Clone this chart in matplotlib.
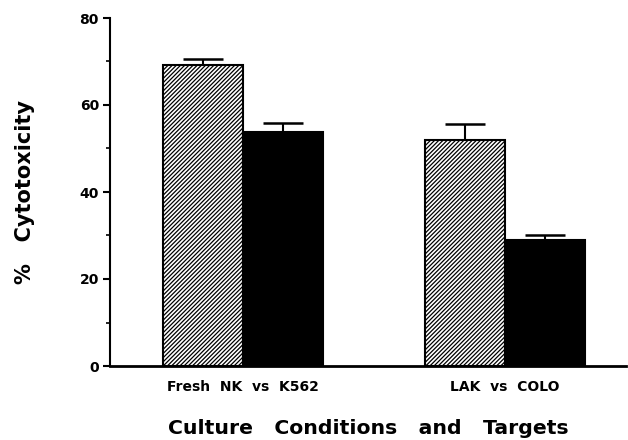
import numpy as np
import matplotlib
matplotlib.use("Agg")
import matplotlib.pyplot as plt
from matplotlib.ticker import MultipleLocator

# ---------------------------------------------------------------------
# Data
# ---------------------------------------------------------------------
groups = ["Fresh  NK  vs  K562", "LAK  vs  COLO"]

hatched_vals = [69.2, 52.0]
hatched_err = [1.4, 3.6]

solid_vals = [53.7, 29.0]
solid_err = [2.1, 1.1]

# ---------------------------------------------------------------------
# Plot
# ---------------------------------------------------------------------
plt.rcParams["font.family"] = "DejaVu Sans"
plt.rcParams["font.weight"] = "bold"
plt.rcParams["hatch.linewidth"] = 0.9

fig = plt.figure(figsize=(6.28, 4.4), dpi=100)
ax = fig.add_axes([110 / 628, 74 / 440, 516 / 628, 348 / 440])

x = np.arange(len(groups))
w = 0.305

ax.bar(x - w / 2, hatched_vals, w, color="white", edgecolor="black",
       hatch="////////", linewidth=1.5, zorder=2)
ax.bar(x + w / 2, solid_vals, w, color="black", edgecolor="black",
       linewidth=1.5, zorder=2)

ax.errorbar(x - w / 2, hatched_vals,
            yerr=[np.zeros(len(groups)), hatched_err],
            fmt="none", ecolor="black", elinewidth=1.5,
            capsize=14.5, capthick=1.8, zorder=1)
ax.errorbar(x + w / 2, solid_vals,
            yerr=[np.zeros(len(groups)), solid_err],
            fmt="none", ecolor="black", elinewidth=1.5,
            capsize=14.5, capthick=1.8, zorder=1)

ax.set_xlim(-0.508, 1.462)
ax.set_ylim(0, 80)
ax.set_xticks(x)
ax.set_xticklabels(groups, fontsize=10, fontweight="bold")
ax.yaxis.set_major_locator(MultipleLocator(20))
ax.yaxis.set_minor_locator(MultipleLocator(10))

ax.spines["top"].set_visible(False)
ax.spines["right"].set_visible(False)
ax.spines["left"].set_linewidth(1.5)
ax.spines["bottom"].set_linewidth(2)

ax.tick_params(axis="x", length=0, pad=10)
ax.tick_params(axis="y", which="major", length=5, width=1.5,
               labelsize=10, pad=3)
ax.tick_params(axis="y", which="minor", length=3, width=1.2)
for lbl in ax.get_yticklabels():
    lbl.set_fontweight("bold")

ax.set_xlabel("Culture   Conditions   and   Targets",
              fontsize=14.7, fontweight="bold", labelpad=18)
ax.set_ylabel("%   Cytotoxicity", fontsize=15, fontweight="bold",
              labelpad=32)

plt.savefig("out.png", dpi=100)
